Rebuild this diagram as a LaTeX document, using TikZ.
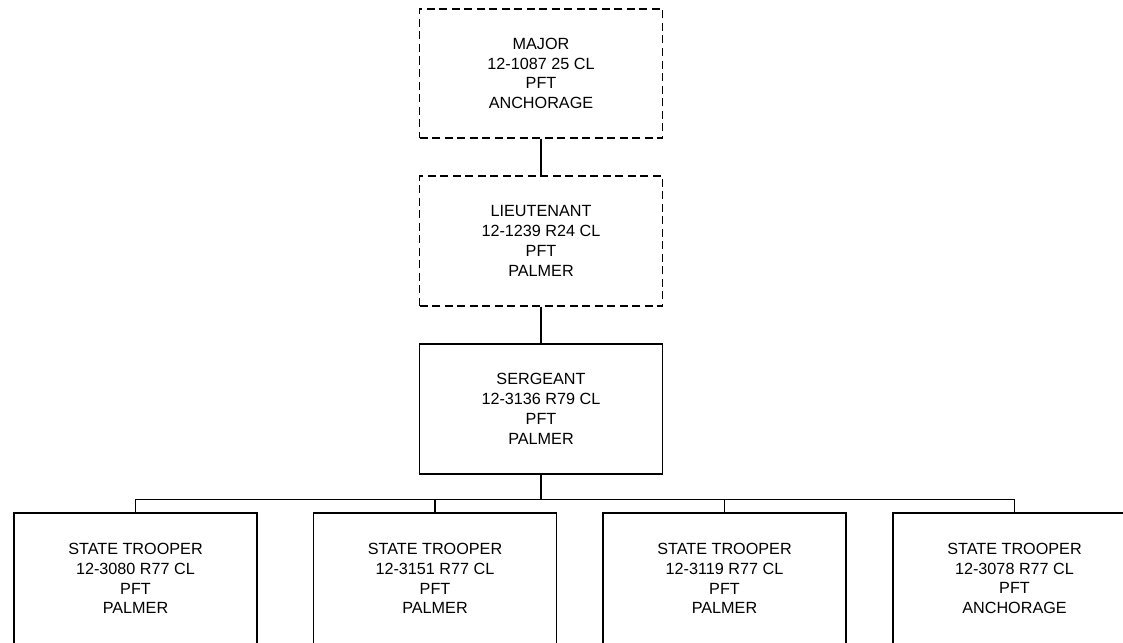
\documentclass[tikz,border=0pt]{standalone}
\usepackage{fontspec}
\setmainfont{Liberation Sans}
\begin{document}
\begin{tikzpicture}[x=1pt,y=-1pt,
  post/.style={draw=black,line width=1.2pt,rectangle,minimum width=243pt,minimum height=129pt,
    align=center,inner sep=0pt,font=\fontsize{16.2}{19.8}\selectfont},
  vacant/.style={post,dash pattern=on 8pt off 4.5pt},
  trooper/.style={post,minimum height=131pt},
  link/.style={line width=1.4pt}]
\useasboundingbox (0,0) rectangle (1123,642);
\clip (0,0) rectangle (1123,642);
\node[vacant] (major) at (541,73.5) {MAJOR\\12-1087 25 CL\\PFT\\ANCHORAGE};
\node[vacant,minimum height=130pt] (lt) at (541,241) {LIEUTENANT\\12-1239 R24 CL\\PFT\\PALMER};
\node[post,minimum height=130pt] (sgt) at (541,409) {SERGEANT\\12-3136 R79 CL\\PFT\\PALMER};
\node[trooper] (t1) at (135.5,578.5) {STATE TROOPER\\12-3080 R77 CL\\PFT\\PALMER};
\node[trooper] (t2) at (435,578.5) {STATE TROOPER\\12-3151 R77 CL\\PFT\\PALMER};
\node[trooper] (t3) at (724.5,578.5) {STATE TROOPER\\12-3119 R77 CL\\PFT\\PALMER};
\node[trooper] (t4) at (1014.5,578.5) {STATE TROOPER\\12-3078 R77 CL\\PFT\\ANCHORAGE};
\draw[link] (major.south) -- (lt.north);
\draw[link] (lt.south) -- (sgt.north);
\draw[link] (sgt.south) -- ++(0,25) coordinate (bus);
\draw[link] (bus) -| (t1.north);
\draw[link] (bus) -| (t2.north);
\draw[link] (bus) -| (t3.north);
\draw[link] (bus) -| (t4.north);
\end{tikzpicture}
\end{document}
